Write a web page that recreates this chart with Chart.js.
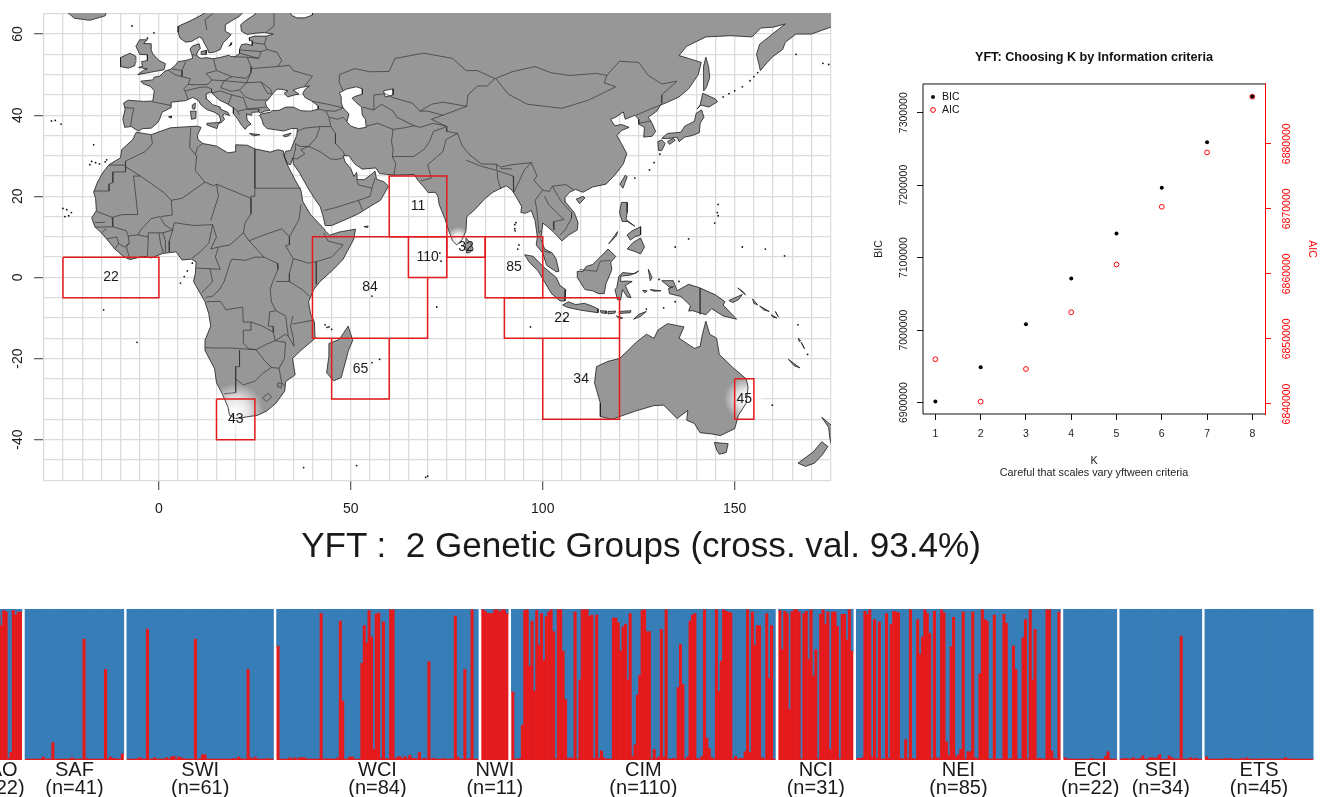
<!DOCTYPE html>
<html>
<head>
<meta charset="utf-8">
<title>YFT genetic groups</title>
<script src="https://cdn.jsdelivr.net/npm/chart.js@4/dist/chart.umd.js"></script>
<style>
  html, body { margin: 0; padding: 0; background: #fff; overflow: hidden; }
  body { width: 1323px; height: 797px; position: relative; font-family: "Liberation Sans", Arial, sans-serif; }
  canvas { position: absolute; display: block; }
  #mapChart { left: 0; top: 0; }
  #icChart { left: 860px; top: 40px; }
  #structureChart { left: 0; top: 600px; }
  #mainTitle { position: absolute; left: 0; width: 1282px; top: 523px; text-align: center; font-size: 35.1px; line-height: 44px; color: #1a1a1a; white-space: pre; }
</style>
</head>
<body>
<canvas id="mapChart" width="840" height="525"></canvas>
<canvas id="icChart" width="463" height="450"></canvas>
<div id="mainTitle">YFT :  2 Genetic Groups (cross. val. 93.4%)</div>
<canvas id="structureChart" width="1323" height="197"></canvas>
<script>
// ---- Information criteria
const kValues = [1, 2, 3, 4, 5, 6, 7, 8];
const bicValues = [6901400, 6948800, 7008200, 7071300, 7133400, 7196500, 7259100, 7322200];
const aicValues = [6846870, 6840360, 6845380, 6854100, 6861440, 6870310, 6878670, 6887230];
const bicTicks = [6900000, 7000000, 7100000, 7200000, 7300000];
const aicTicks = [6840000, 6850000, 6860000, 6870000, 6880000];

// ---- Sampling boxes, lon/lat
const boxLabels = [22, 11, 84, 110, 32, 85, 22, 34, 65, 43, 45];
const labelLon = [-12.5, 67.5, 55, 70, 80, 92.5, 105, 110, 52.5, 20, 152.5];
const labelLat = [0, 17.5, -2.5, 5, 7.5, 2.5, -10, -25, -22.5, -35, -30];
const boxes = [
  [[-25, 5], [0, 5], [0, -5], [-25, -5], [-25, 5]],
  [[60, 10], [60, 25], [75, 25], [75, 10], [60, 10]],
  [[65, 10], [40, 10], [40, -15], [70, -15], [70, 0]],
  [[65, 10], [75, 10], [75, 0], [65, 0], [65, 10]],
  [[75, 10], [85, 10], [85, 5], [75, 5], [75, 10]],
  [[85, 10], [100, 10], [100, -5], [85, -5], [85, 10]],
  [[90, -5], [120, -5], [120, -15], [90, -15], [90, -5]],
  [[100, -15], [100, -35], [120, -35], [120, -15]],
  [[45, -15], [45, -30], [60, -30], [60, -15]],
  [[15, -30], [25, -30], [25, -40], [15, -40], [15, -30]],
  [[150, -25], [155, -25], [155, -35], [150, -35], [150, -25]]
];

// ---- Map axes
const lonGrid = [-30, -25, -20, -15, -10, -5, 0, 5, 10, 15, 20, 25, 30, 35, 40, 45, 50, 55, 60, 65, 70, 75, 80, 85, 90, 95, 100, 105, 110, 115, 120, 125, 130, 135, 140, 145, 150, 155, 160, 165, 170, 175];
const latGrid = [-50, -45, -40, -35, -30, -25, -20, -15, -10, -5, 0, 5, 10, 15, 20, 25, 30, 35, 40, 45, 50, 55, 60, 65];

// ---- Coastlines, lon/lat
const eurasia = [[12,67],[12.5,65.5],[10.5,64.4],[8,63.2],[5.2,62],[5,60.5],[5.5,59],[7,58],[8.5,58.2],[10.5,59.3],[11.2,59],[11.8,57.8],[12.7,56.3],[13,55.4],[14.3,55.5],[16,56.2],[16.7,57.8],[18,59],[18.8,59.9],[17.3,60.7],[17.3,62.3],[19,63.3],[21,64.4],[22,65.5],[24,65.8],[25.3,65.1],[24.5,64.5],[22.5,63.3],[21.3,62.3],[21.5,60.7],[23,59.9],[25,60.2],[27.5,60.4],[29.8,60],[28,59.5],[25,59.5],[23.5,59.1],[23.6,58.4],[24.4,58.3],[24.3,57.2],[22.8,57.6],[21.5,57.4],[21,56.2],[21,55.2],[19.8,54.4],[18.6,54.5],[18.3,54.8],[16.2,54.3],[14.2,53.9],[12.3,54.2],[11,54],[10,54.5],[9.8,55],[10.3,56],[10.8,56.4],[10.5,57.6],[8.8,57.1],[8.1,56.3],[8.6,55],[8.8,54],[7,53.5],[5,53.2],[4.2,52.2],[3,51.3],[1.6,50.9],[0.2,49.6],[-1.2,49.4],[-1.6,48.7],[-4.7,48.4],[-4.2,47.8],[-2.2,47.1],[-1.2,46],[-1.6,43.5],[-4,43.4],[-8,43.7],[-9.2,43],[-8.8,41.5],[-9.4,39],[-8.9,37],[-7.2,37.2],[-6.2,36.6],[-5.4,36.1],[-4.2,36.7],[-2,36.8],[-0.5,38],[0.2,39],[0.8,40.7],[3.2,41.9],[3.2,43.2],[5,43.4],[7,43.6],[8.8,44.4],[10.2,43.7],[11,42.5],[12.5,41.4],[14.3,40.8],[15.7,40],[16.1,38.8],[15.7,38],[16.3,38.2],[17.1,39],[16.6,39.8],[17,40.4],[18.4,39.9],[18,40.7],[16,41.5],[16,42],[14,42.6],[12.5,44],[12.3,45.3],[13.7,45.7],[14.3,45],[15.8,43.7],[17.8,42.8],[19.4,41.8],[19.4,40.4],[20.6,39],[21.3,37.8],[22.5,36.5],[23.1,37.3],[24,37.8],[23,38.8],[22.8,40.3],[24,40],[24.2,40.7],[26,40.8],[26.5,40.5],[27.5,41],[29,41.2],[28.1,42],[27.7,43.2],[28.6,44],[29.6,45.3],[30.8,46.4],[32,46.4],[33.6,46],[32.6,45.4],[33.6,44.5],[35.3,45],[36.5,45.2],[35,46.2],[36.8,46.8],[39.2,47.2],[38,46.3],[37.5,45.4],[38,44.4],[39.8,43.5],[41.5,42.3],[41.5,41.5],[39.5,41],[37,41.1],[35,42],[33,42],[31.3,41.2],[29.5,41.1],[29,40.7],[27,40.4],[26.2,40],[26.8,39],[27.2,37.6],[28.2,36.7],[30.5,36.4],[32.5,36.1],[34.5,36.7],[36.1,36.7],[35.9,35],[35,33],[34.3,31.3],[33,31.1],[32.6,30],[33.5,28],[34.3,27.8],[34.9,29.5],[35,28],[36.5,26],[37.5,24.3],[39,21.8],[40.5,19.5],[42,17.5],[42.8,15],[43.3,12.8],[45,12.8],[48,14],[52,15.7],[55,17.5],[57.7,19],[58.7,20.6],[59.8,22.5],[58.6,23.6],[56.7,24.2],[56.3,26.2],[55.2,25.3],[53.5,24.1],[51.7,24.1],[51.5,25.9],[50.8,24.9],[50,26.8],[48.5,28.5],[48,30],[49.5,30],[51,28],[53,26.7],[56.5,27],[57.5,25.6],[61.5,25.2],[66.5,25.4],[67.5,23.9],[69,22.3],[70.2,20.9],[72,21],[72.7,20],[73,18],[74.5,14.5],[75.5,11.5],[76.5,9],[77.6,8],[79,9.3],[80,11.5],[80.2,15],[82.3,16.7],[85,19.5],[87,21],[88.5,21.7],[90.5,22.6],[92,21.5],[93,20],[94.5,17.5],[94.3,16],[95.5,15.8],[97,16.5],[98,14],[98.6,10],[98.3,8],[100,6],[101,3],[103.5,1.4],[104.2,1.5],[103.5,4.5],[102.5,6],[100.5,7],[99.5,9.5],[100,13.4],[101,12.7],[103,11],[105,9],[106.7,10.4],[109,11.7],[109.2,13.5],[108.2,16],[106,18.5],[105.8,19.7],[107,21],[108.5,21.7],[110.5,21],[113,22.3],[116.5,23],[119,25.5],[121,28],[121.9,30.5],[120.5,33],[119.3,35],[120.5,36.2],[122.5,37],[120.5,37.7],[118.8,37.4],[118,38.5],[117.7,39],[119,39.5],[121,40.8],[121.5,39],[124,40],[125,39],[125,37.8],[126.5,37],[126.3,34.6],[128.5,34.8],[129.4,36],[128.5,38],[127.5,39.5],[129.7,41],[130.7,42.5],[132.5,43.2],[135.5,44.5],[138,46.5],[140.5,50],[141.3,53],[138,54],[135.5,54.7],[137.5,57],[142.5,59.3],[149,59.6],[154.5,59.3],[156.8,61.5],[160,61.7],[163.2,62.5],[160.5,60.5],[156.5,57.5],[155.7,55],[156.7,51],[158.5,53],[160,54.5],[162.5,56.2],[163.2,58],[166,60],[170,60],[175,61.7],[178,62.5],[178,67],[40,67],[40,64.7],[38,64],[36,64],[34.7,64.5],[33.5,66.5],[33,67]];
const africa = [[-5.9,35.8],[-2,35.2],[3,36.9],[10,37.3],[11,37],[10,35],[10.2,34],[11.5,33],[15,32.4],[18,30.7],[20,31],[20,32.7],[23,32.6],[25,31.7],[29,30.9],[31,31.5],[32.4,31.2],[32.6,30],[33.6,27.5],[35.5,24],[37,21.5],[37.5,18.7],[39.5,15.5],[43,12],[43.3,11.5],[44.5,10.4],[47,11.2],[51.2,11.9],[50.8,9.5],[48,4.5],[45.5,2],[42,-1],[40.3,-3],[39,-6],[39.5,-9],[40.5,-11],[40.7,-15],[37,-18],[34.8,-20],[35.5,-24],[33,-25.7],[32.8,-28],[30.5,-31],[28,-33],[25.7,-34],[20,-34.8],[18.4,-34],[18,-32],[16.5,-28.7],[15,-26],[14.5,-22.5],[12,-18],[12,-15.5],[13.5,-12],[13,-9],[12,-6],[9,-1],[9.5,1],[9.7,3.8],[8.5,4.5],[6,4.3],[4.5,6.3],[1,5.9],[-2,4.8],[-4,5.2],[-7.5,4.4],[-9,5],[-11.5,7],[-13.2,9],[-15,11],[-16.7,12.5],[-17.5,14.7],[-16.3,16.5],[-16.5,19.5],[-17,21],[-16,23.5],[-14.5,26],[-13,27.8],[-10,29.5],[-9.7,31.5],[-6.8,34]];
const madagascar = [[49.3,-12],[50.5,-15.5],[49.4,-18],[47.5,-24.7],[45.5,-25.5],[43.7,-23.5],[44.2,-20],[44.3,-16.3],[47,-15.3]];
const greatBritain = [[-5.5,50],[1.3,51.2],[1.7,52.7],[0,53.5],[-1.5,55],[-2,56],[-2,57.6],[-4,57.7],[-3,58.6],[-5,58.6],[-6,57],[-5,55],[-3,54.9],[-3,53.5],[-4.5,53.2],[-4.3,52],[-5.3,51.8],[-3,51.4],[-4,51.1]];
const ireland = [[-6.2,53],[-6,54.5],[-7.5,55.3],[-10,54.2],[-10,52],[-8,51.6],[-6.3,52.2]];
const iceland = [[-24,65.5],[-22,63.9],[-18,63.4],[-14,64.5],[-13.5,66],[-24,66]];
const sicily = [[12.5,38],[15.6,38.2],[15.1,36.7],[12.5,37.6]];
const sardinia = [[8.2,41],[9.7,41],[9.6,39.2],[8.5,39]];
const corsica = [[8.7,42.5],[9.5,43],[9.4,41.5],[8.8,41.6]];
const crete = [[23.6,35.5],[26.3,35.2],[24.7,34.9]];
const cyprus = [[32.3,35],[34.5,35.6],[33.8,34.9],[32.7,34.7]];
const mallorca = [[2.5,39.6],[3.3,39.8],[3.2,39.3]];
const zealand = [[11,55.7],[12.5,56],[12.3,55],[11,55]];
const gotland = [[18.2,57],[19,57.9],[18.8,57.3]];
const sriLanka = [[80,9.7],[81.2,8.5],[81.9,7],[81,6.1],[80.2,6],[79.8,8]];
const socotra = [[53.4,12.5],[54.5,12.7],[54.4,12.3]];
const sumatra = [[95.3,5.6],[97.5,5.2],[100.3,2.5],[103.5,0],[104.5,-2],[106,-3],[105.8,-5.8],[104.5,-5.8],[102.3,-4],[100.4,-1],[98.7,1.7],[96.5,3.7]];
const java = [[105.2,-6.8],[106.7,-6],[108.5,-6.7],[110.9,-6.4],[112.7,-7],[114.5,-7.8],[114.4,-8.7],[110,-8.1],[106.5,-7.4]];
const bali = [[115,-8.2],[116.7,-8.3],[116.5,-8.9],[115.2,-8.7]];
const sumbawa = [[117,-8.4],[119,-8.3],[118.8,-8.8],[117,-9]];
const flores = [[119.9,-8.4],[123,-8.2],[122.8,-8.7],[120,-8.9]];
const sumba = [[119.2,-9.5],[120.8,-10],[120,-10.2]];
const timor = [[123.7,-10.3],[125,-9.1],[127,-8.4],[125.5,-9.6]];
const borneo = [[109,1.5],[110.5,1.5],[111.3,2.7],[113,3.2],[115,5],[117,7],[119,5.2],[117.7,3.7],[118,2],[117.5,0.7],[116.5,-1.5],[116,-4],[114.5,-4],[113,-3.3],[111,-3],[110,-1.5],[109,0]];
const sulawesi = [[119.5,-5.5],[120.3,-5.5],[120.8,-3],[122,-4.8],[123,-5],[122,-3],[121.5,-2],[123.3,-1],[121.5,-0.9],[120.3,-1],[120.3,0.3],[123,0.6],[125,1.6],[124,0.9],[120.8,1.2],[119.8,0.2],[119.3,-2.5],[118.8,-3]];
const luzon = [[120.5,18.5],[122,18.5],[122,16],[121.7,14.3],[124,12.6],[122,13.8],[120.7,13.8],[120,16]];
const mindanao = [[122,7],[123.5,8.6],[125.5,9.7],[126.5,7.5],[125.5,5.8],[124,6.4]];
const palawan = [[117.2,8.3],[119.5,11.3],[119.2,10.3]];
const visayas = [[122,10.5],[123.3,11.5],[125.5,12.5],[125.5,10.5],[124,10],[122.8,9.2]];
const taiwan = [[121.5,25.2],[122,24.8],[120.9,22],[120.1,23]];
const hainan = [[108.7,19.3],[110.5,20],[111,19.6],[109.6,18.2]];
const honshu = [[131,34.3],[132.5,35.5],[136,35.8],[137,37.3],[139.5,38.5],[140,40.5],[141.4,41.3],[142,39.5],[141,38],[140.8,35.7],[139,35],[137,34.6],[135.5,33.5],[135,34.6],[132.5,34.2]];
const hokkaido = [[140.2,41.5],[141,42.5],[141.7,45.4],[145,44],[145.5,43.3],[143.3,42],[141.2,42.5]];
const kyushu = [[130,33.5],[131,33.9],[131.9,33],[131,31.3],[130.2,31.3]];
const shikoku = [[132.5,33.5],[134,34.3],[134.5,33.8],[133,32.8]];
const sakhalin = [[142.5,54.3],[143.2,52],[143.5,49.3],[142.7,47],[142,46],[142,49],[141.8,52]];
const newGuinea = [[131,-0.8],[134,-0.8],[135,-3.3],[138,-1.7],[141,-2.6],[145,-4.3],[147.5,-6],[147,-6.8],[150.5,-10.3],[147,-9.5],[144,-7.7],[142.5,-9.2],[139,-8.2],[138,-8.3],[138.5,-7],[136,-4.7],[133,-4],[132.8,-2.7],[134,-2.3],[133,-2.4]];
const newBritain = [[148.5,-5.7],[152,-4.2],[151,-5.5],[149.5,-6.2]];
const newIreland = [[150.8,-2.6],[152.8,-4.3],[152.3,-3.6]];
const halmahera = [[127.5,2],[128.5,0],[128,-0.8]];
const seram = [[128,-3],[130.8,-3.3],[129,-3.4]];
const buru = [[126,-3.2],[127.2,-3.3],[126.6,-3.8]];
const bougainville = [[154.7,-5.3],[156,-6.8],[155,-6.4]];
const solomon1 = [[156.5,-7],[159,-8.4],[157.5,-8]];
const solomon2 = [[159.5,-9.2],[161,-10],[160,-9.8]];
const solomon3 = [[160.6,-8.4],[161.4,-9.7],[161,-9.2]];
const vanuatu = [[166.6,-15],[167.2,-15.6],[166.8,-15.8]];
const vanuatu2 = [[167.3,-16],[168.2,-17.6],[167.8,-16.8]];
const newCaledonia = [[164,-20.2],[167,-22.3],[165.5,-21.8]];
const australia = [[114,-22],[113.5,-26],[115,-31],[115,-34.3],[118,-35],[124,-33],[129,-31.6],[131.5,-31.5],[135,-34.8],[137.8,-32.8],[137.5,-35.2],[139.5,-36],[141,-38.3],[144,-38.6],[146.3,-39],[150,-37.3],[151,-34],[153,-31],[153.5,-27],[153,-25],[149.5,-22.2],[146,-19],[145.3,-15],[143.5,-14],[142.5,-10.8],[141.6,-14],[141,-17],[139.5,-17.5],[135.5,-15],[136.8,-12.2],[132.5,-11.4],[130,-13],[129,-15],[127,-14],[124,-16.3],[122.2,-18],[120,-20],[117,-20.7]];
const tasmania = [[144.7,-40.7],[148.3,-41],[147.8,-43.2],[146,-43.6],[145.3,-42.5]];
const nzNorth = [[172.7,-34.5],[175.5,-36.7],[178.5,-37.7],[177,-39.5],[175.3,-41.6],[174.8,-39.7],[174.5,-37]];
const nzSouth = [[172.7,-40.5],[174.3,-41.7],[172.8,-43.8],[170.8,-45.8],[168.5,-46.6],[166.5,-45.8],[170.5,-43]];
const landShapes = [eurasia, africa, madagascar, greatBritain, ireland, iceland, sicily, sardinia, corsica, crete, cyprus, mallorca, zealand, gotland, sriLanka, socotra, sumatra, java, bali, sumbawa, flores, sumba, timor, borneo, sulawesi, luzon, mindanao, palawan, visayas, taiwan, hainan, honshu, hokkaido, kyushu, shikoku, sakhalin, newGuinea, newBritain, newIreland, halmahera, seram, buru, bougainville, solomon1, solomon2, solomon3, vanuatu, vanuatu2, newCaledonia, australia, tasmania, nzNorth, nzSouth];

const caspian = [[47,45.5],[49,46.5],[51.5,47],[53,46.5],[53,45.2],[51,44.6],[50.3,44.2],[51.3,43.2],[52.8,42],[53,40],[53.8,39],[54,37],[52,36.7],[50,37.3],[49,38.4],[49.5,40.3],[48,41.8],[47.5,43],[47.5,44.5]];
const aral = [[58.5,46],[61,46.5],[61,45],[59,44.5]];
const lakes = [caspian, aral];

const specks = [[-25.5,37.8],[-28,38.6],[-27,38.7],[-17,32.7],[-16.5,28.3],[-15.5,28],[-14,28.5],[-13.6,29],[-17.5,28.6],[-18,27.8],[-24,16.7],[-23.5,15.2],[-25,17],[-22.8,16],[-24.5,15],[8.7,3.5],[7.4,1.6],[6.6,0.2],[5.6,-1.4],[-5.7,-16],[-14.4,-8],[57.5,-20.2],[55.5,-21],[55.5,-4.6],[43.3,-11.7],[44.3,-12.2],[45,-12.8],[43.8,-12.3],[69.5,-49.3],[70,-49],[51.5,-46.4],[37.7,-46.9],[92.7,12],[92.7,13],[92.8,11.5],[93,13.5],[93.5,7],[93.8,8],[73.5,4],[73.2,6],[72.4,-7.3],[105.7,-10.5],[96.8,-12.2],[144.8,13.4],[145.7,15.2],[145.5,16],[145.7,18],[127.8,26.5],[129,28.3],[130.5,30.4],[124,24.5],[134.5,7.5],[147,44.5],[148.5,45.3],[150,46],[152,47],[154,48.5],[155,49.5],[156,50.5],[166,55],[173,52.8],[174.5,52.5],[-7,62],[-1.3,60.3],[-3,59],[158,7],[152,7.5],[138,9.5],[163,5.3],[127,-7.8],[131.5,-7.5],[134.5,-6],[135.5,-1],[130.3,-0.5],[166.5,-11.7],[169,-19],[159.8,-31.5]];

// ---- Country borders, lon/lat
const borders = [
  [[-2,35.1],[-1.7,33],[-3.6,31],[-8.7,28.7],[-8.7,27.3]],
  [[-13,27.7],[-8.7,27.7]],
  [[-8.7,27.3],[-8.7,26],[-12,26],[-12,23.4],[-13,23],[-13,21.3],[-17,21.3]],
  [[-8.7,27.3],[-4.8,25],[1.2,21],[3.2,19],[4.2,19.2],[6,19.5],[12,23.5],[9.5,26.3],[9.8,30],[8,32],[8.3,36.9]],
  [[-4.8,25],[-6.6,25],[-5.5,15.5],[-9.5,15.5],[-11.5,15],[-12.2,14.8],[-16.3,16.3]],
  [[9.5,30.2],[10,32],[11.5,33.1]],
  [[25,31.6],[25,22]],
  [[25,22],[37,22]],
  [[12,23.5],[14.2,22.6],[15,23],[24,19.5],[24,20],[25,20],[25,22]],
  [[15,23],[15.5,20],[13.5,14]],
  [[3.2,19],[3.5,15.4],[0.5,15]],
  [[14,13],[9,12.8],[4,13.5],[3.6,11.7]],
  [[3.6,11.7],[2.7,9],[2.7,6.3]],
  [[24,19.5],[24,15.7],[22.5,13.5],[22,11],[23.5,9]],
  [[15.5,7.5],[18.5,8],[22,11]],
  [[14,13],[15,10],[13.5,7],[15.5,7.5],[14.7,5],[16,2],[9.8,2.3]],
  [[14,13],[13,8.5],[11,6.5],[8.6,4.7]],
  [[18.5,3.5],[19,4.5],[22.5,4.2],[25,5],[27.4,5]],
  [[23.5,9],[27.4,5]],
  [[27.4,5],[30.8,3.5],[31,2],[29.6,-1.2],[29,-3],[29.3,-6],[30.5,-8.2],[28.9,-8.5],[28.5,-12],[29.8,-12.1],[29.8,-13.5],[27,-12],[24,-11],[22,-11],[21.8,-7.3],[17.5,-8],[16,-5.9],[12.3,-6]],
  [[18.5,3.5],[17,-1],[15.8,-3],[14,-4.6],[12.1,-5]],
  [[13.3,2.2],[14,-1],[11.2,-3.8]],
  [[37,18],[36.5,14.3],[34,10],[34,8],[33,7.8],[35,4.6]],
  [[35,4.6],[36,4.4],[39,3.5],[41,3.9],[45,5],[48,8],[44,9],[43,11]],
  [[23.5,9],[26,10],[32,12],[34,10]],
  [[41,3.9],[41,-1.7]],
  [[35,4.6],[34,1],[34,-1],[37.6,-3.2],[39.2,-4.7]],
  [[30.5,-1],[34,-1]],
  [[40.4,-10.5],[34.9,-11.5]],
  [[34.9,-9.5],[34.3,-12],[35,-15],[35.2,-17],[33.7,-14.5],[33,-9.5],[30.5,-8.2]],
  [[30.3,-15.6],[33,-14],[33.7,-14.5]],
  [[29.8,-13.5],[30.3,-15.6],[28,-16.5],[25.3,-17.8],[23.5,-17.7],[22,-16.2],[22,-13],[24,-13],[24,-11]],
  [[12,-17.3],[14,-17.4],[18.5,-17.4],[23.5,-17.7],[25.3,-17.8]],
  [[21,-18],[21,-22],[20,-22],[20,-28.4],[17,-28.7]],
  [[20,-25],[22,-26.5],[25,-25.6],[27,-23.7],[29.3,-22.2],[31.3,-22.4]],
  [[25.3,-17.8],[27.5,-20.5],[29.3,-22.2]],
  [[30.3,-15.6],[33,-16],[32.7,-20],[31.3,-22.4],[32,-26],[32.9,-26.8]],
  [[27,-29.7],[28.5,-28.6],[29.4,-29.5],[28,-30.6],[27,-29.7]],
  [[31,-26],[32,-26.2],[31.8,-27.3],[30.8,-26.8],[31,-26]],
  [[-12.2,14.8],[-12,12.5],[-8.5,11.5],[-8,10.2],[-7.7,8.5],[-8.5,7.5],[-7.5,4.4]],
  [[-16.7,12.4],[-12,12.5]],
  [[-16.7,13.5],[-14,13.6]],
  [[-15,11],[-13.7,12]],
  [[-13.5,9.5],[-11,10],[-10.5,8.4],[-11.5,7]],
  [[-10.5,8.4],[-9,7.5],[-7.7,8.5]],
  [[-3,5.1],[-2.8,9],[-2.8,11]],
  [[-8,10.2],[-5.5,10.5],[-2.8,10]],
  [[-5.5,10.5],[-4.5,12],[-2,14.5],[0.2,15],[1.5,13],[3.6,11.7],[1,11],[-2.8,11]],
  [[1.2,6],[0.5,8],[0,11]],
  [[1.7,6.2],[1.7,9],[1,11]],
  [[36,36],[38,36.8],[42,37.2],[44.8,37.2]],
  [[44.8,37.2],[44.3,39.5],[43.5,41.1],[41.5,41.5]],
  [[44.8,37.2],[46,35.5],[46,33],[48,31],[48.5,30]],
  [[42,37.2],[41,34.5],[39,32.3],[36.8,32.3],[35.6,33]],
  [[39,32.3],[42,31],[44.7,29.2],[46.5,29.1],[48,29.5]],
  [[39,32.3],[37,31.5],[38,30.5],[36,29.2],[35,29.4]],
  [[35,29.4],[35.5,31.5],[35.6,33]],
  [[43,16.5],[46,17.2],[52,19],[55,20],[55.5,22],[52,22.8],[51.5,24.2]],
  [[52,19],[53,16.6]],
  [[55.5,22],[56.3,24.5]],
  [[61.2,25.2],[61.7,28],[60.8,29.8],[61,31.5],[60.6,33.5],[61,36.5],[57,38],[54,37.3]],
  [[61,36.5],[64,36.9],[66.5,37.4],[68,37],[71.5,38],[74.8,37.3]],
  [[60.8,29.8],[66.3,29.8],[69,31.5],[70.5,33.5],[71.5,36],[74.5,37]],
  [[68.2,23.8],[71,24.5],[70,27.8],[74,31],[74.8,34],[77.8,35.5]],
  [[53,42],[56,41.3],[56,45],[59,45.3],[61,44.3],[66,43],[68,41],[71,42.7],[74,43.2],[80.2,42.2],[80.5,45],[83,47.2],[85.5,47.2],[87.5,49]],
  [[48,46],[47,48],[47,50],[51,51.5],[55,50.7],[60,50.8],[61.5,54],[69,55.3],[76.5,54],[80,51],[83,51],[87.5,49]],
  [[56,41.3],[58,42.7],[61,41],[62,39.5],[66.5,37.4]],
  [[68,41],[70,41],[74,40],[71,39],[74.8,37.3]],
  [[74,40],[80.2,42.2]],
  [[87.5,49],[92,50.7],[98,52],[102,50.5],[107,49.8],[114,50.3],[116.7,49.8],[116,48],[119,47],[111.9,43.7],[105,41.7],[96,42.7],[91,45.2],[87.8,49]],
  [[116.7,49.8],[120,53.3],[125,53],[127.5,49.8],[131,47.7],[135,48.4],[131,45],[131,43],[130.7,42.5]],
  [[124.3,40],[128,41.5],[130.7,42.5]],
  [[125,38],[128.3,38.6]],
  [[77.8,35.5],[79,32.5],[81,30.2],[84,28],[88,27.9],[89,27.2],[92,27.8],[97,28.3],[98.5,25],[97.7,24],[100,21.5],[101.7,21.2],[102.5,22.5],[106,22.9],[108,21.6]],
  [[74.8,37.3],[75,36],[77.8,35.5]],
  [[80,28.9],[84,27.4],[88,26.4],[88,27.9]],
  [[89,26.8],[92,26.8]],
  [[88.2,24.5],[88.2,26.3],[92.3,25],[92.3,23.5],[92.5,21]],
  [[88.2,24.5],[89,22]],
  [[92.5,21],[94,24],[95.2,26.5],[97,28.3]],
  [[100,21.5],[98,19],[98.5,16.5],[99,11],[99.6,11.5]],
  [[102.5,22.5],[104,20],[105,18.5],[107.5,16],[107.5,14.6],[105.8,11.7],[104.5,10.4]],
  [[100.5,20],[101.5,18],[105.5,14.3],[102.7,13.7],[102.9,11.7]],
  [[100.3,6.5],[102,6]],
  [[-1.7,43.3],[3.2,42.4]],
  [[-8.8,41.9],[-6.5,41.7],[-7,39.7],[-7.4,37.2]],
  [[2.5,51],[4.2,50],[6,49.5],[8.2,49],[7.6,47.6],[6.5,46.5],[7,45.5],[7.6,43.8]],
  [[14.2,54],[15,51],[12.3,50.3],[13.8,48.7],[12.8,47.6],[9.5,47.5],[7.6,47.6]],
  [[7,53.3],[6,51],[6,49.5]],
  [[3.5,51.4],[6,51]],
  [[8.6,54.9],[9.8,54.8]],
  [[19.5,54.4],[23,54.3],[24,52],[24,50.5],[22.8,49.1],[19,49.5],[15,51]],
  [[6.9,46],[10.4,46.8],[12.3,47],[13.7,46.5],[13.7,45.6]],
  [[13.8,48.7],[17,48.5],[16.1,46.8],[18.8,45.9],[21,46.2],[22.8,48],[17,48.5],[19,49.5]],
  [[22.8,48],[26.6,48.2],[28.2,45.5],[29.6,45.2]],
  [[21,46.2],[22.5,44.5],[25,43.7],[28.5,43.8]],
  [[21,56.1],[26.6,55.7],[28.2,56.2],[27.5,57.5],[24.3,57.9]],
  [[27.5,57.5],[28,59.4]],
  [[21,55.3],[26,54],[23,54.3]],
  [[24,51.5],[31,52],[32,53.5],[30.8,55.5],[28.2,56.2]],
  [[26,54],[26.6,55.7]],
  [[38,47.2],[40,49.6],[35,51],[34,52.3],[31,52]],
  [[24,50.5],[22.8,48]],
  [[26.6,48.2],[29,46.5],[29.6,45.2]],
  [[13.7,45.5],[16,46],[19,45],[22,44.3],[23,41.5],[26,41.5],[26,40.8]],
  [[18,42.6],[19,45]],
  [[19.3,42],[20.5,41],[21,40]],
  [[20.5,41],[23,41.5],[28,42]],
  [[12.5,61],[12,63.5],[14,65],[14,67]],
  [[24,65.9],[23.5,67]],
  [[30,62],[28,60.5]],
  [[30,62],[30,65],[29,67]],
  [[40,43.4],[44,42.7],[48,41.8]],
  [[48,41.8],[46,41],[43.5,41.1]],
  [[44.3,39.5],[46.5,39],[48,39.5],[48.9,38.5]],
  [[141,-2.6],[141,-9.1]],
  [[109.6,2],[114,1.5],[115,4],[117.5,4.2]]
];

// ---- Structure plot: red share per individual, blue is the rest
const groupNames = ['GAO', 'SAF', 'SWI', 'WCI', 'NWI', 'CIM', 'NCI', 'NEI', 'ECI', 'SEI', 'ETS'];
const gao = [.99,.12,.98,.01,.97,.9,.02,.99,.85,.98,.01,.95,.97,.89,.99,.98,.01,.05,.99,.96,.98,.98];
const saf = [.006,.006,.006,.006,.006,.006,.006,.02,.006,.006,.006,.115,.006,.006,.006,.006,.006,.006,.006,.015,.006,.006,.006,.006,.8,.01,.006,.006,.006,.006,.006,.006,.006,.6,.006,.02,.01,.01,.006,.006,.04];
const swi = [.006,.006,.006,.006,.01,.015,.006,.006,.867,.006,.006,.015,.006,.006,.006,.006,.015,.006,.02,.025,.006,.02,.015,.01,.006,.006,.006,.006,.8,.006,.008,.035,.035,.006,.006,.006,.006,.006,.006,.006,.006,.006,.006,.006,.01,.006,.02,.01,.006,.006,.6,.015,.008,.02,.006,.006,.006,.006,.01,.006,.006];
const wci = [.754,.006,.006,.006,.006,.015,.006,.015,.006,.015,.015,.015,.006,.006,.006,.006,.006,.006,.97,.006,.006,.008,.006,.006,.006,.015,.92,.39,.006,.006,.02,.02,.006,.006,.006,.64,.89,.775,.99,.815,.07,.967,.973,.01,.914,.01,.006,.995,.995,.008,.02,.02,.01,.022,.006,.032,.012,.01,.006,.05,.006,.01,.007,.652,.006,.012,.006,.006,.006,.01,.006,.006,.006,.006,.953,.02,.006,.006,.6,.006,.01,.995,.006,.006];
const nwi = [.995,.985,.97,.97,.97,.995,.995,.98,.995,.995,.97];
const cim = [.45,.006,.006,.01,.23,.99,.995,.62,.92,.455,.99,.76,.97,.66,.95,.98,.995,.85,.006,.995,.995,.72,.4,.01,.015,.01,.98,.006,.53,.995,.995,.995,.95,.96,.01,.96,.01,.06,.015,.006,.006,.006,.94,.94,.91,.72,.88,.9,.53,.97,.025,.1,.43,.56,.99,.995,.85,.85,.006,.07,.01,.02,.865,.02,.995,.006,.006,.012,.008,.48,.765,.5,.006,.02,.92,.96,.97,.01,.006,.025,.995,.145,.075,.015,.006,.995,.455,.655,.995,.985,.98,.975,.006,.025,.006,.012,.01,.055,.995,.05,.98,.76,.89,.89,.015,.006,.97,.54,.89,.006];
const nci = [.99,.73,.985,.97,.335,.98,.995,.995,.98,.006,.97,.985,.665,.995,.555,.73,.006,.965,.995,.9,.98,.07,.98,.98,.885,.006,.965,.965,.795,.995,.72];
const nei = [.01,.01,.015,.985,.965,.995,.02,.93,.01,.915,.006,.006,.97,.01,.9,.985,.98,.975,.01,.006,.135,.006,.995,.01,.006,.93,.7,.815,.995,.97,.84,.006,.985,.015,.01,.995,.975,.12,.03,.75,.945,.02,.035,.07,.98,.006,.055,.055,.98,.015,.006,.57,.995,.93,.92,.006,.006,.96,.006,.006,.006,.965,.905,.006,.01,.755,.6,.006,.006,.81,.93,.006,.995,.53,.865,.01,.012,.006,.006,.995,.995,.06,.01,.006,.98];
const eci = [.015,.006,.006,.006,.006,.006,.006,.006,.006,.006,.006,.012,.006,.006,.006,.006,.006,.025,.055,.006,.006,.006];
const sei = [.006,.01,.01,.006,.006,.015,.006,.006,.01,.027,.006,.006,.015,.015,.012,.015,.035,.006,.006,.006,.027,.015,.006,.006,.006,.82,.006,.006,.006,.015,.006,.012,.006,.006];
const ets = [.022,.006,.006,.006,.006,.006,.006,.006,.01,.006,.01,.006,.006,.006,.006,.01,.006,.015,.006,.006,.006,.006,.006,.006,.008,.006,.008,.006,.006,.006,.006,.006,.006,.015,.008,.006,.006,.006,.006,.006,.006,.006,.006,.006,.006];
const groups = [gao, saf, swi, wci, nwi, cim, nci, nei, eci, sei, ets];

const RED = '#e41a1c';
const BLUE = '#377eb8';
const LAND = '#979797';
const FONT = '"Liberation Sans", Arial, sans-serif';
Chart.defaults.font.family = FONT;
Chart.defaults.animation = false;
Chart.defaults.events = [];
Chart.defaults.plugins.legend.display = false;
Chart.defaults.plugins.tooltip.enabled = false;

function toPoints(list) {
  return list.map(p => ({ x: p[0], y: p[1] }));
}

// keep the plot box where it is, tick labels must not push it in
function fixBox(scale, size) {
  if (scale.isHorizontal()) scale.height = size; else scale.width = size;
  scale.paddingLeft = scale.paddingRight = scale.paddingTop = scale.paddingBottom = 0;
}

function tracePath(ctx, scaleX, scaleY, list) {
  ctx.beginPath();
  list.forEach((p, i) => {
    const x = scaleX.getPixelForValue(p[0]);
    const y = scaleY.getPixelForValue(p[1]);
    if (i === 0) ctx.moveTo(x, y); else ctx.lineTo(x, y);
  });
  ctx.closePath();
}

// land fill goes under the outline datasets, sea shows the grid
const landPlugin = {
  id: 'landFill',
  beforeDatasetsDraw(chart) {
    const { ctx, chartArea, scales } = chart;
    ctx.save();
    ctx.beginPath();
    ctx.rect(chartArea.left, chartArea.top, chartArea.width, chartArea.height);
    ctx.clip();
    ctx.fillStyle = LAND;
    landShapes.forEach(s => { tracePath(ctx, scales.x, scales.y, s); ctx.fill(); });
    ctx.fillStyle = '#fff';
    lakes.forEach(s => { tracePath(ctx, scales.x, scales.y, s); ctx.fill(); });
    // pale halo behind some labels
    [[20, -33, 28], [153, -30, 22], [78, 9.5, 12]].forEach(g => {
      const x = scales.x.getPixelForValue(g[0]);
      const y = scales.y.getPixelForValue(g[1]);
      const grad = ctx.createRadialGradient(x, y, 0, x, y, g[2]);
      grad.addColorStop(0, 'rgba(255,255,255,1)');
      grad.addColorStop(0.45, 'rgba(255,255,255,0.75)');
      grad.addColorStop(1, 'rgba(255,255,255,0)');
      ctx.fillStyle = grad;
      ctx.fillRect(x - g[2], y - g[2], g[2] * 2, g[2] * 2);
    });
    ctx.restore();
  },
  afterDatasetsDraw(chart) {
    const { ctx, scales } = chart;
    ctx.save();
    ctx.font = '14px ' + FONT;
    ctx.fillStyle = '#1a1a1a';
    ctx.textAlign = 'center';
    ctx.textBaseline = 'middle';
    boxLabels.forEach((t, i) => {
      ctx.fillText(t, scales.x.getPixelForValue(labelLon[i]), scales.y.getPixelForValue(labelLat[i]));
    });
    ctx.restore();
  }
};

// Map
const mapDatasets = [];
boxes.forEach(b => mapDatasets.push({ data: toPoints(b), showLine: true, pointRadius: 0, borderColor: RED, borderWidth: 1.5, order: 0 }));
mapDatasets.push({ data: toPoints(specks), showLine: false, pointRadius: 0.9, pointBorderWidth: 0, backgroundColor: '#111', order: 1 });
borders.forEach(b => mapDatasets.push({ data: toPoints(b), showLine: true, pointRadius: 0, borderColor: '#333', borderWidth: 0.7, order: 1 }));
landShapes.concat(lakes).forEach(s => mapDatasets.push({ data: toPoints(s.concat([s[0]])), showLine: true, pointRadius: 0, borderColor: '#1c1c1c', borderWidth: 0.8, order: 2 }));

new Chart(document.getElementById('mapChart'), {
  type: 'scatter',
  data: { datasets: mapDatasets },
  options: {
    responsive: false,
    layout: { padding: { top: 13, right: 9 } },
    scales: {
      x: {
        type: 'linear', min: -30.2, max: 175.1,
        afterBuildTicks: s => { s.ticks = lonGrid.map(v => ({ value: v })); },
        afterFit: s => fixBox(s, 44),
        border: { display: false },
        grid: { color: '#dcdcdc', lineWidth: 1.3, tickLength: 9, tickColor: c => (c.tick && c.tick.value % 50 === 0 ? '#666' : 'transparent') },
        ticks: { autoSkip: false, maxRotation: 0, padding: 11, color: '#1a1a1a', font: { size: 14 }, callback: v => (v % 50 === 0 ? String(v) : '') }
      },
      y: {
        type: 'linear', min: -50.2, max: 65.2,
        afterBuildTicks: s => { s.ticks = latGrid.map(v => ({ value: v })); },
        afterFit: s => fixBox(s, 43),
        border: { display: false },
        grid: { color: '#dcdcdc', lineWidth: 1.3, tickLength: 9, tickColor: c => (c.tick && c.tick.value % 20 === 0 ? '#666' : 'transparent') },
        ticks: { autoSkip: false, minRotation: 90, maxRotation: 90, crossAlign: 'center', padding: 6, color: '#1a1a1a', font: { size: 14 }, callback: v => (v % 20 === 0 ? String(v) : '') }
      }
    }
  },
  plugins: [landPlugin]
});

// Information criteria panel
const framePlugin = {
  id: 'frameAndKey',
  afterDatasetsDraw(chart) {
    const { ctx, chartArea: a } = chart;
    ctx.save();
    ctx.strokeStyle = '#111';
    ctx.lineWidth = 1;
    ctx.beginPath();
    ctx.moveTo(a.right, a.top);
    ctx.lineTo(a.left, a.top);
    ctx.lineTo(a.left, a.bottom);
    ctx.lineTo(a.right, a.bottom);
    ctx.stroke();
    ctx.font = '10.5px ' + FONT;
    ctx.textBaseline = 'middle';
    ctx.fillStyle = '#111';
    ctx.fillText('BIC', a.left + 19, a.top + 13);
    ctx.fillText('AIC', a.left + 19, a.top + 26);
    ctx.beginPath();
    ctx.arc(a.left + 10, a.top + 13, 2, 0, Math.PI * 2);
    ctx.fill();
    ctx.strokeStyle = '#ff0000';
    ctx.beginPath();
    ctx.arc(a.left + 10, a.top + 26, 2.4, 0, Math.PI * 2);
    ctx.stroke();
    ctx.restore();
  }
};

new Chart(document.getElementById('icChart'), {
  type: 'scatter',
  data: {
    datasets: [
      { label: 'BIC', data: kValues.map((k, i) => ({ x: k, y: bicValues[i] })), yAxisID: 'y', pointRadius: 2, pointBorderWidth: 0, backgroundColor: '#000' },
      { label: 'AIC', data: kValues.map((k, i) => ({ x: k, y: aicValues[i] })), yAxisID: 'y1', pointRadius: 2.4, pointBorderWidth: 1, pointBorderColor: '#ff0000', backgroundColor: 'transparent' }
    ]
  },
  options: {
    responsive: false,
    layout: { padding: { left: 5 } },
    plugins: {
      title: { display: true, text: 'YFT: Choosing K by Information criteria', color: '#111', font: { size: 12.65, weight: 'bold', lineHeight: 1.2 }, padding: { top: 10, bottom: 18.8 } }
    },
    scales: {
      x: {
        type: 'linear', min: 0.726, max: 8.28,
        afterBuildTicks: s => { s.ticks = kValues.map(v => ({ value: v })); },
        afterFit: s => fixBox(s, 76),
        border: { display: false },
        grid: { drawOnChartArea: false, tickLength: 6, tickColor: '#111' },
        ticks: { maxRotation: 0, autoSkip: false, padding: 8, color: '#222', font: { size: 10.5 } },
        title: { display: true, text: ['K', 'Careful that scales vary yftween criteria'], color: '#222', font: { size: 10.8, lineHeight: 1.2 }, padding: { top: 0, bottom: 10 } }
      },
      y: {
        type: 'linear', position: 'left', min: 6884250, max: 7339640,
        afterBuildTicks: s => { s.ticks = bicTicks.map(v => ({ value: v })); },
        afterFit: s => fixBox(s, 58),
        border: { display: false },
        grid: { drawOnChartArea: false, tickLength: 6, tickColor: '#111' },
        ticks: { autoSkip: false, minRotation: 90, maxRotation: 90, crossAlign: 'center', padding: -7.5, color: '#222', font: { size: 10.5 }, callback: v => String(v) },
        title: { display: true, text: 'BIC', color: '#222', font: { size: 10.5 }, padding: { top: 8, bottom: 0 } }
      },
      y1: {
        type: 'linear', position: 'right', min: 6838460, max: 6889185,
        afterBuildTicks: s => { s.ticks = aicTicks.map(v => ({ value: v })); },
        afterFit: s => fixBox(s, 58),
        border: { display: true, color: '#ff0000', width: 1 },
        grid: { drawOnChartArea: false, tickLength: 6, tickColor: '#ff0000' },
        ticks: { autoSkip: false, minRotation: 90, maxRotation: 90, crossAlign: 'center', padding: -4, color: '#ff0000', font: { size: 10.5 }, callback: v => String(v) },
        title: { display: true, text: 'AIC', color: '#ff0000', font: { size: 10.5 }, padding: { top: 5, bottom: 0 } }
      }
    }
  },
  plugins: [framePlugin]
});

// Structure plot, one slot per individual with a small spacing between groups
const groupGap = 1.5;
const redBars = [];
const blueBars = [];
const groupCentres = [];
let slot = 0;
groups.forEach(g => {
  groupCentres.push(slot + g.length / 2);
  g.forEach(r => {
    redBars.push({ x: slot + 0.5, y: r });
    blueBars.push({ x: slot + 0.5, y: 1 - r });
    slot += 1;
  });
  slot += groupGap;
});

new Chart(document.getElementById('structureChart'), {
  type: 'bar',
  data: {
    datasets: [
      { label: 'Group 1', data: redBars, backgroundColor: RED, barPercentage: 1, categoryPercentage: 1, inflateAmount: 0.33 },
      // blue overlaps a bit so no pale seams show between neighbours
      { label: 'Group 2', data: blueBars, backgroundColor: BLUE, barPercentage: 1, categoryPercentage: 1, inflateAmount: 0.6 }
    ]
  },
  options: {
    responsive: false,
    layout: { padding: { top: 9 } },
    scales: {
      x: {
        type: 'linear', stacked: true, offset: false, min: 12.94, max: 565.2,
        afterBuildTicks: s => { s.ticks = groupCentres.map(v => ({ value: v })); },
        afterFit: s => fixBox(s, 37),
        border: { display: false },
        grid: { display: false, drawTicks: false },
        ticks: {
          autoSkip: false, maxRotation: 0, padding: 2, color: '#1a1a1a', font: { size: 20, lineHeight: 0.88 },
          callback: (v, i) => [groupNames[i], '(n=' + groups[i].length + ')']
        }
      },
      y: { stacked: true, min: 0, max: 1, display: false }
    }
  }
});
</script>
</body>
</html>
